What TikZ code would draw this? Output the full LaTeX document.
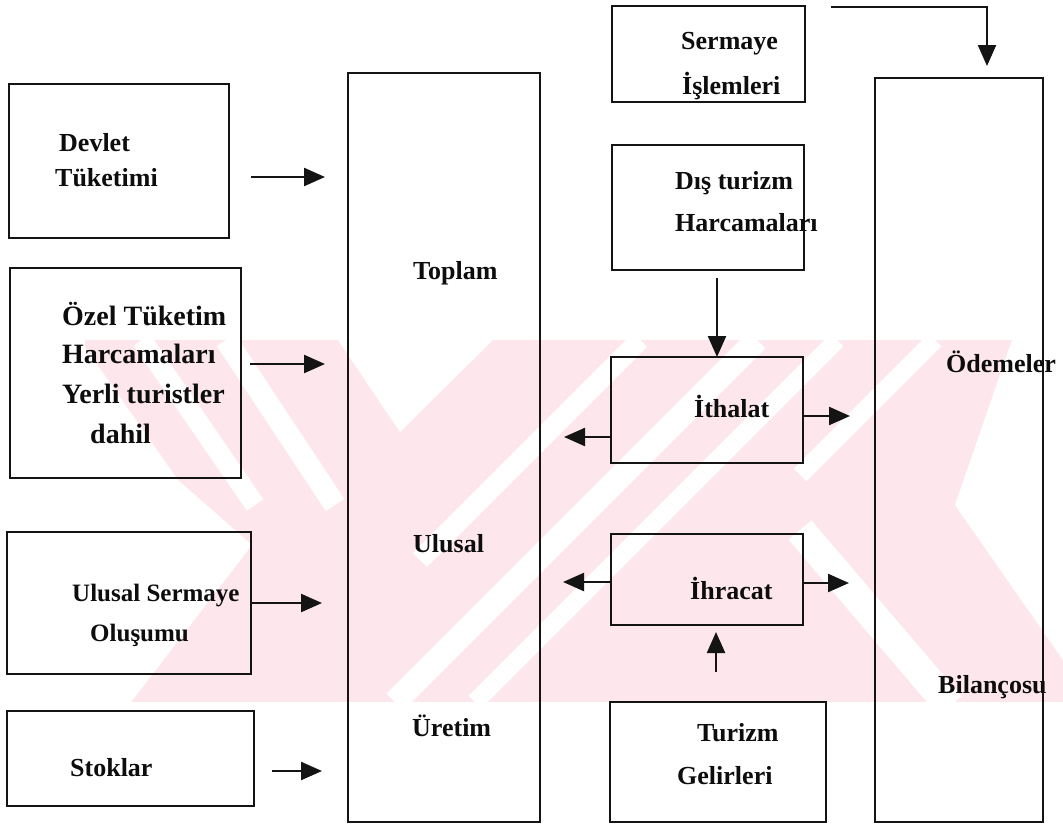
\documentclass[tikz,border=0pt]{standalone}
\usepackage{fontspec}
\setmainfont{Liberation Serif}
\usetikzlibrary{arrows.meta}
\definecolor{wmpink}{RGB}{253,231,236}
\begin{document}
\begin{tikzpicture}[x=1pt,y=-1pt,
  box/.style={draw=black!92,line width=1.9pt,inner sep=0pt,outer sep=0pt},
  lbl/.style={anchor=base west,inner sep=0pt,text=black!95,font=\fontsize{26}{30}\selectfont\bfseries},
  lblbig/.style={lbl,font=\fontsize{28}{32}\selectfont\bfseries},
  lblsmall/.style={lbl,font=\fontsize{25}{30}\selectfont\bfseries},
  flow/.style={draw=black!92,line width=2.3pt,-{Triangle[length=21pt,width=18pt]}},
  wmstripe/.style={draw=white,line width=#1},
]
\useasboundingbox[fill=white] (0,0) rectangle (1063,827);

% light background emblem
\begin{scope}
  \clip (85,340) rectangle (1063,702);
  \fill[wmpink] (85,340) rectangle (1063,702);
  \fill[white] (80,340) -- (178,480) -- (252,545) -- (128,706) -- (80,706) -- cycle;
  \draw[wmstripe=20pt] (142,340) -- (255,505);
  \draw[wmstripe=22pt] (226,340) -- (335,505);
  \fill[white] (338,340) -- (493,340) -- (400,432) -- cycle;
  \draw[wmstripe=20pt] (420,560) -- (640,340);
  \draw[wmstripe=24pt] (395,702) -- (757,340);
  \draw[wmstripe=18pt] (475,702) -- (837,340);
  \draw[wmstripe=18pt] (800,475) -- (935,340);
  \draw[wmstripe=30pt] (800,530) -- (950,706);
  \fill[white] (1012,340) -- (1063,340) -- (1063,660) -- (955,505) -- cycle;
\end{scope}

% boxes
\node[box,minimum width=220pt,minimum height=154pt] (dev)  at (119,161) {};
\node[box,minimum width=231pt,minimum height=210pt] (ozel) at (125.5,373) {};
\node[box,minimum width=244pt,minimum height=142pt] (usf)  at (129,603) {};
\node[box,minimum width=247pt,minimum height=95pt]  (stok) at (130.5,758.5) {};
\node[box,minimum width=192pt,minimum height=749pt] (tum)  at (444,447.5) {};
\node[box,minimum width=193pt,minimum height=96pt]  (serm) at (708.5,54) {};
\node[box,minimum width=192pt,minimum height=125pt] (dis)  at (708,207.5) {};
\node[box,minimum width=192pt,minimum height=106pt] (ith)  at (707,410) {};
\node[box,minimum width=192pt,minimum height=91pt]  (ihr)  at (707,579.5) {};
\node[box,minimum width=216pt,minimum height=120pt] (tur)  at (718,762) {};
\node[box,minimum width=168pt,minimum height=744pt] (ode)  at (959,450) {};

% labels
\node[lbl] (devA) at (59,151) {Devlet};
\node[lbl] (devB) at (55,186) {Tüketimi};
\node[lblbig] (ozA) at (62,325) {Özel Tüketim};
\node[lblbig] (ozB) at (62,363) {Harcamaları};
\node[lblbig] (ozC) at (62,403) {Yerli turistler};
\node[lblbig] (ozD) at (90,443) {dahil};
\node[lblsmall] (usA) at (72,601) {Ulusal Sermaye};
\node[lblsmall] (usB) at (90,641) {Oluşumu};
\node[lbl] (stA) at (70,776) {Stoklar};
\node[lbl] (tuA) at (413,279) {Toplam};
\node[lbl] (tuB) at (413,552) {Ulusal};
\node[lbl] (tuC) at (412,736) {Üretim};
\node[lbl] (seA) at (681,49) {Sermaye};
\node[lbl] (seB) at (682,94) {İşlemleri};
\node[lbl] (diA) at (675,189) {Dış turizm};
\node[lbl] (diB) at (675,231) {Harcamaları};
\node[lbl] (itA) at (694,417) {İthalat};
\node[lbl] (ihA) at (690,599) {İhracat};
\node[lbl] (trA) at (697,741) {Turizm};
\node[lbl] (trB) at (677,784) {Gelirleri};
\node[lbl] (odA) at (946,372) {Ödemeler};
\node[lbl] (odB) at (938,693) {Bilançosu};

% free arrow ends
\coordinate (p1) at (251,177);  \coordinate (q1) at (325,177);
\coordinate (p2) at (250,364);  \coordinate (q2) at (325,364);
\coordinate (q3) at (322,603);
\coordinate (p4) at (272,771);  \coordinate (q4) at (322,771);
\coordinate (p5) at (831,7);    \coordinate (q5) at (987,66);
\coordinate (p6) at (717,278);
\coordinate (q7) at (850,416);  \coordinate (q8) at (564,437);
\coordinate (q9) at (563,582);  \coordinate (q10) at (849,583);
\coordinate (p11) at (716,672); \coordinate (q11) at (716,632);

% connectors
\draw[flow] (p1) -- (q1);
\draw[flow] (p2) -- (q2);
\draw[flow] (usf.east) -- (q3);
\draw[flow] (p4) -- (q4);
\draw[flow] (p5) -| (q5);
\draw[flow] (p6) -- (p6 |- ith.north);
\draw[flow] ([yshift=-6pt]ith.east) -- (q7);
\draw[flow] ([yshift=-27pt]ith.west) -- (q8);
\draw[flow] ([yshift=-2.5pt]ihr.west) -- (q9);
\draw[flow] ([yshift=-3.5pt]ihr.east) -- (q10);
\draw[flow] (p11) -- (q11);
\end{tikzpicture}
\end{document}
